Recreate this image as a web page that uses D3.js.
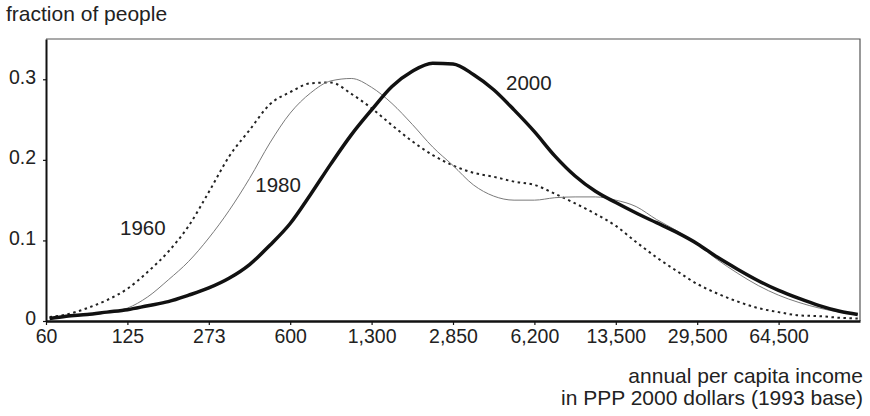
<!DOCTYPE html>
<html>
<head>
<meta charset="utf-8">
<script src="https://cdn.jsdelivr.net/npm/d3@7"></script>
<style>
    body { margin: 0; background: #fff; }
    svg text { font-family: "Liberation Sans", Arial, sans-serif; fill: #222; }
</style>
</head>
<body>
<div id="chart"></div>
<script>
// Income levels (PPP 2000 dollars) at which the densities were read
const incomes = [62, 72, 87, 104, 125, 152, 185, 225, 273, 332, 405, 493, 600, 728, 883, 1072,
    1300, 1582, 1925, 2342, 2850, 3461, 4204, 5105, 6200, 7531, 9149, 11113, 13500, 16413,
    19956, 24262, 29500, 35872, 43620, 53041, 64500, 78432, 95374, 115971, 138000];

// Fraction of people per year
const share1960 = [0.005, 0.008, 0.016, 0.026, 0.040, 0.061, 0.086, 0.118, 0.160, 0.204, 0.237,
    0.269, 0.284, 0.295, 0.296, 0.282, 0.264, 0.243, 0.223, 0.206, 0.193, 0.184, 0.179, 0.173,
    0.169, 0.158, 0.146, 0.133, 0.118, 0.098, 0.079, 0.062, 0.046, 0.034, 0.024, 0.016, 0.011,
    0.007, 0.006, 0.004, 0.003];
const share1980 = [0.003, 0.006, 0.008, 0.011, 0.016, 0.030, 0.051, 0.074, 0.103, 0.137, 0.177,
    0.221, 0.258, 0.283, 0.298, 0.301, 0.290, 0.270, 0.244, 0.216, 0.193, 0.169, 0.155, 0.150,
    0.150, 0.153, 0.154, 0.154, 0.150, 0.142, 0.126, 0.112, 0.095, 0.076, 0.059, 0.044, 0.032,
    0.023, 0.016, 0.011, 0.008];
const share2000 = [0.003, 0.006, 0.008, 0.011, 0.014, 0.019, 0.024, 0.032, 0.041, 0.053, 0.070,
    0.094, 0.121, 0.157, 0.195, 0.231, 0.262, 0.291, 0.310, 0.320, 0.319, 0.306, 0.287, 0.262,
    0.235, 0.205, 0.180, 0.161, 0.147, 0.134, 0.122, 0.110, 0.096, 0.079, 0.064, 0.050, 0.038,
    0.028, 0.019, 0.012, 0.008];

// Axis ticks
const xTickValues = [60, 125, 273, 600, 1300, 2850, 6200, 13500, 29500, 64500];
const xDomainEnd = 141000;
const yTickValues = [0, 0.1, 0.2, 0.3];

// Curve labels, placed in data units
const labelYears = ['1960', '1980', '2000'];
const labelIncome = [117, 428, 4728];
const labelShare = [0.107, 0.160, 0.287];

function renderIncomeChart() {
    const width = 870;
    const height = 416;
    const margin = { top: 39, right: 10, bottom: 95, left: 46 };
    const innerW = width - margin.left - margin.right;
    const innerH = height - margin.top - margin.bottom;

    const svg = d3.select('#chart')
        .append('svg')
        .attr('width', width)
        .attr('height', height);

    const g = svg.append('g')
        .attr('transform', `translate(${margin.left}, ${margin.top})`);

    // Ticks are evenly spaced, so use a piecewise log scale through them
    const xDomain = xTickValues.concat([xDomainEnd]);
    const step = innerW / (xDomain.length - 1);
    const xScale = d3.scaleLog()
        .domain(xDomain)
        .range(xDomain.map((d, i) => i * step));

    const yScale = d3.scaleLinear()
        .domain([0, 0.35])
        .range([innerH, 0]);

    // Frame (top and right, thin)
    g.append('path')
        .attr('d', `M0,0H${innerW}V${innerH}`)
        .attr('fill', 'none')
        .attr('stroke', '#555')
        .attr('stroke-width', 1.2);

    // X axis
    const xAxis = g.append('g')
        .attr('transform', `translate(0, ${innerH})`)
        .call(d3.axisBottom(xScale)
            .tickValues(xTickValues)
            .tickSize(4)
            .tickPadding(4)
            .tickSizeOuter(0)
            .tickFormat(d3.format(','))
        );
    xAxis.select('.domain').attr('stroke', '#111').attr('stroke-width', 2.5);
    xAxis.selectAll('.tick line').attr('stroke', '#111').attr('stroke-width', 1.2);
    xAxis.selectAll('text')
        .attr('fill', '#222')
        .style('font-size', '19.5px');

    // Y axis
    const yAxis = g.append('g')
        .call(d3.axisLeft(yScale)
            .tickValues(yTickValues)
            .tickSize(3)
            .tickPadding(7)
            .tickSizeOuter(0)
            .tickFormat(d => d === 0 ? '0' : d3.format('.1f')(d))
        );
    yAxis.select('.domain').attr('stroke', '#111').attr('stroke-width', 2);
    yAxis.selectAll('.tick line').attr('stroke', '#111').attr('stroke-width', 1.2);
    yAxis.selectAll('text')
        .attr('fill', '#222')
        .attr('dy', '0.2em')
        .style('font-size', '19.5px');

    // Series
    const series = [
        { values: share1960, stroke: '#222', width: 2, dash: '2.5,3.5' },
        { values: share1980, stroke: '#7a7a7a', width: 1, dash: null },
        { values: share2000, stroke: '#111', width: 3.5, dash: null }
    ];

    const line = d3.line()
        .x(d => xScale(d[0]))
        .y(d => yScale(d[1]))
        .curve(d3.curveMonotoneX);

    series.forEach(s => {
        g.append('path')
            .datum(incomes.map((x, i) => [x, s.values[i]]))
            .attr('fill', 'none')
            .attr('stroke', s.stroke)
            .attr('stroke-width', s.width)
            .attr('stroke-dasharray', s.dash)
            .attr('stroke-linejoin', 'round')
            .attr('d', line);
    });

    // Curve labels
    labelYears.forEach((year, i) => {
        g.append('text')
            .attr('x', xScale(labelIncome[i]))
            .attr('y', yScale(labelShare[i]))
            .style('font-size', '20.5px')
            .text(year);
    });

    // Axis titles
    svg.append('text')
        .attr('x', 6)
        .attr('y', 21)
        .style('font-size', '21px')
        .text('fraction of people');

    svg.append('text')
        .attr('x', 863)
        .attr('y', 383)
        .attr('text-anchor', 'end')
        .style('font-size', '21px')
        .text('annual per capita income');

    svg.append('text')
        .attr('x', 863)
        .attr('y', 405)
        .attr('text-anchor', 'end')
        .style('font-size', '21px')
        .text('in PPP 2000 dollars (1993 base)');
}

renderIncomeChart();
</script>
</body>
</html>
